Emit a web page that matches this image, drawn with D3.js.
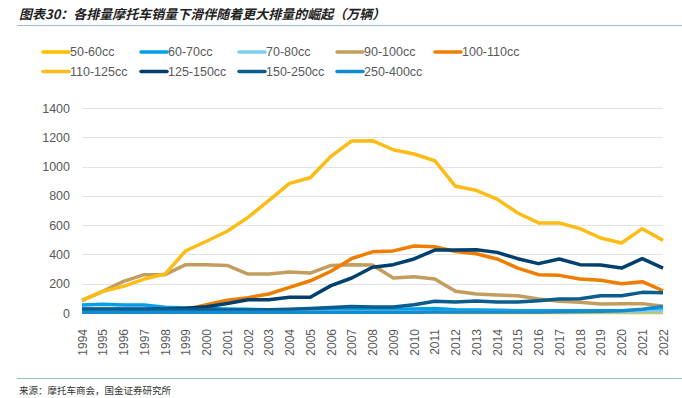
<!DOCTYPE html>
<html>
<head>
<meta charset="utf-8">
<script src="https://cdn.jsdelivr.net/npm/d3@7"></script>
<style>
  body { margin: 0; background: #fff; }
  svg { display: block; font-family: "Liberation Sans", Arial, sans-serif; }
</style>
</head>
<body>
<svg width="682" height="398"></svg>
<script>
const years = d3.range(1994, 2023);
const yTicks = [0, 200, 400, 600, 800, 1000, 1200, 1400];

const seriesNames = ['50-60cc', '60-70cc', '70-80cc', '90-100cc', '100-110cc',
  '110-125cc', '125-150cc', '150-250cc', '250-400cc'];
const seriesColors = ['#FFC000', '#00A0E9', '#7FCCF2', '#C39D5E', '#EE7D00',
  '#FBBC15', '#003F6E', '#0B5D8E', '#148BD0'];

// values in 万辆, 1994..2022
const cc50 = [8, 8, 8, 8, 7, 6, 6, 5, 5, 5, 5, 5, 5, 5, 5, 5, 5, 5, 4, 4, 4, 4, 4, 3, 3, 3, 3, 3, 3];
const cc60 = [55, 60, 55, 55, 40, 35, 30, 28, 25, 22, 22, 25, 28, 30, 28, 25, 28, 30, 22, 20, 18, 16, 15, 15, 15, 15, 15, 15, 20];
const cc70 = [12, 12, 12, 12, 12, 10, 10, 10, 8, 8, 8, 8, 8, 8, 8, 8, 8, 8, 8, 8, 8, 8, 8, 8, 8, 8, 8, 10, 12];
const cc90 = [85, 148, 216, 262, 262, 330, 330, 325, 266, 266, 280, 273, 325, 330, 328, 239, 248, 232, 148, 130, 123, 118, 96, 80, 73, 61, 64, 64, 46];
const cc100 = [18, 18, 18, 18, 20, 23, 57, 88, 105, 130, 175, 220, 285, 372, 418, 424, 458, 452, 420, 405, 369, 307, 262, 257, 232, 223, 200, 214, 152];
const cc110 = [88, 148, 182, 232, 266, 425, 490, 558, 653, 767, 885, 924, 1070, 1175, 1177, 1115, 1086, 1040, 865, 838, 778, 683, 615, 615, 576, 512, 478, 576, 496];
const cc125 = [28, 28, 28, 28, 28, 32, 42, 65, 90, 90, 107, 107, 187, 239, 312, 330, 369, 430, 430, 432, 414, 371, 337, 369, 330, 328, 307, 371, 307];
const cc150 = [22, 22, 22, 22, 22, 20, 20, 20, 20, 22, 25, 30, 38, 45, 41, 41, 57, 80, 75, 82, 75, 75, 84, 96, 98, 118, 118, 141, 139];
const cc250 = [5, 5, 5, 5, 5, 5, 5, 5, 5, 5, 5, 5, 5, 5, 5, 5, 5, 6, 6, 6, 6, 6, 7, 8, 10, 12, 15, 25, 45];

const seriesValues = [cc50, cc60, cc70, cc90, cc100, cc110, cc125, cc150, cc250];

const svg = d3.select('svg');
const MARGIN = { TOP: 108, RIGHT: 19, BOTTOM: 85, LEFT: 82 };
const WIDTH = +svg.attr('width') - MARGIN.LEFT - MARGIN.RIGHT;
const HEIGHT = +svg.attr('height') - MARGIN.TOP - MARGIN.BOTTOM;

// title
svg.append('text')
  .attr('x', 19)
  .attr('y', 19)
  .attr('font-family', '"Noto Sans CJK SC", sans-serif')
  .attr('font-size', 13)
  .attr('font-weight', 'bold')
  .attr('font-style', 'italic')
  .attr('fill', '#222')
  .text('图表30：各排量摩托车销量下滑伴随着更大排量的崛起（万辆）');

svg.append('line')
  .attr('x1', 17).attr('x2', 682)
  .attr('y1', 25.5).attr('y2', 25.5)
  .attr('stroke', '#9fbdd0')
  .attr('stroke-width', 1.2);

svg.append('line')
  .attr('x1', 17).attr('x2', 682)
  .attr('y1', 378.5).attr('y2', 378.5)
  .attr('stroke', '#9fbdd0')
  .attr('stroke-width', 1.2);

svg.append('text')
  .attr('x', 19)
  .attr('y', 394)
  .attr('font-family', '"Noto Sans CJK SC", sans-serif')
  .attr('font-size', 9.5)
  .attr('fill', '#333')
  .text('来源：摩托车商会，国金证券研究所');

// legend
const legend = svg.append('g');
seriesNames.forEach((name, i) => {
  const col = i < 5 ? i : i - 5;
  const row = i < 5 ? 0 : 1;
  const lg = legend.append('g')
    .attr('transform', `translate(${43 + col * 98}, ${52 + row * 19.5})`);
  lg.append('line')
    .attr('x1', 0).attr('x2', 26)
    .attr('stroke', seriesColors[i])
    .attr('stroke-width', 3.5)
    .attr('stroke-linecap', 'round');
  lg.append('text')
    .attr('x', 27)
    .attr('dy', '0.35em')
    .attr('font-size', 12.5)
    .attr('fill', '#595959')
    .text(name);
});

const g = svg.append('g')
  .attr('transform', `translate(${MARGIN.LEFT}, ${MARGIN.TOP})`);

// scales
const x = d3.scalePoint().domain(years).range([0, WIDTH]);
const y = d3.scaleLinear().domain([0, 1400]).range([HEIGHT, 0]);

// grid
g.append('g')
  .selectAll('line')
  .data(yTicks)
  .join('line')
  .attr('x1', 0).attr('x2', WIDTH)
  .attr('y1', d => Math.round(y(d)) + 0.5)
  .attr('y2', d => Math.round(y(d)) + 0.5)
  .attr('stroke', '#e3e3e3')
  .attr('stroke-width', 1);

// y axis
const yAxis = g.append('g')
  .call(d3.axisLeft(y).tickValues(yTicks).tickFormat(d3.format('d')).tickSize(0).tickPadding(12));
yAxis.select('.domain').remove();
yAxis.selectAll('text')
  .attr('font-size', 12.5)
  .attr('fill', '#595959');

// x axis
const xAxis = g.append('g')
  .attr('transform', `translate(0, ${HEIGHT})`)
  .call(d3.axisBottom(x).tickSize(0));
xAxis.select('.domain').remove();
xAxis.selectAll('text')
  .attr('font-size', 12)
  .attr('fill', '#595959')
  .attr('transform', 'rotate(-90)')
  .attr('text-anchor', 'end')
  .attr('x', -16)
  .attr('y', 0)
  .attr('dy', '0.35em');

// lines
const line = d3.line()
  .x((d, i) => x(years[i]))
  .y(d => y(d));

seriesValues.forEach((vals, i) => {
  g.append('path')
    .attr('fill', 'none')
    .attr('stroke', seriesColors[i])
    .attr('stroke-width', 3.5)
    .attr('stroke-linejoin', 'round')
    .attr('d', line(vals));
});
</script>
</body>
</html>
